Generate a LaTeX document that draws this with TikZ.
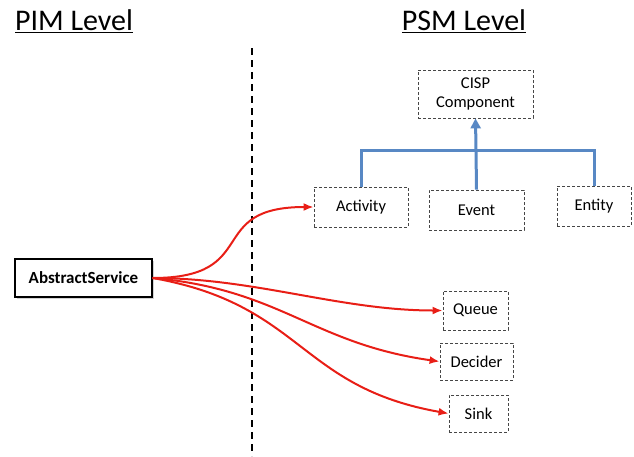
\documentclass[tikz,border=0pt]{standalone}
\usepackage{fontspec}
\setmainfont{Carlito}
\usetikzlibrary{arrows.meta,shadows}

\definecolor{linkred}{RGB}{232,30,22}
\definecolor{treeblue}{RGB}{88,136,196}
\definecolor{boxgray}{RGB}{70,70,70}

\begin{document}
\begin{tikzpicture}[
  x=1pt,y=-1pt,
  >={Latex[length=10pt,width=8pt]},
  level/.style={font=\fontsize{30}{33}\selectfont,inner sep=0pt},
  psm/.style={draw=boxgray,dashed,dash pattern=on 3pt off 2pt,thick,align=center,font=\fontsize{16.5}{19}\selectfont,inner sep=0pt},
  pim/.style={draw=black,very thick,fill=white,font=\fontsize{17}{20}\selectfont\bfseries,inner sep=0pt,
    drop shadow={opacity=0.35,shadow xshift=2pt,shadow yshift=-2pt}},
  link/.style={->,draw=linkred,line width=2pt},
  inherit/.style={draw=treeblue,line width=3pt}
]
\useasboundingbox (0,0) rectangle (634,456);
\node[level] (pimlabel) at (74,21) {\underline{PIM Level}};
\node[level] (psmlabel) at (464,21) {\underline{PSM Level}};
\coordinate (divtop) at (252,48);
\coordinate (divbot) at (252,456);
\draw[black,line width=2pt,dash pattern=on 7pt off 5pt] (divtop) -- (divbot);
% PSM side
\node[psm,minimum width=115pt,minimum height=48pt] (cisp) at (475.5,94) {CISP\\Component};
\node[psm,minimum width=94pt,minimum height=40pt] (activity) at (361,207) {Activity};
\node[psm,minimum width=95pt,minimum height=40pt] (event) at (476.5,210) {Event};
\node[psm,minimum width=74pt,minimum height=40pt] (entity) at (594,206) {Entity};
\node[psm,minimum width=65pt,minimum height=39pt] (queue) at (475.5,310.5) {Queue};
\node[psm,minimum width=73pt,minimum height=37pt] (decider) at (476.5,361.5) {Decider};
\node[psm,minimum width=59pt,minimum height=37pt] (sink) at (478.5,413.5) {Sink};
\coordinate (joint) at (476,150);
\draw[inherit] (activity.north) |- (joint) -| (entity.north);
\draw[inherit] (event.north) -- (joint);
\draw[inherit,-{Triangle[length=10pt,width=10pt]}] (joint) -- (cisp.south);
% PIM side
\node[pim,minimum width=137pt,minimum height=38pt] (abstract) at (83.5,278) {AbstractService};
\draw[link] (abstract.east) to[out=0,in=180,looseness=1.6] (activity.west);
\draw[link] (abstract.east) to[out=0,in=180,looseness=0.9] (queue.west);
\draw[link] (abstract.east) to[out=-5,in=172,looseness=1.1] (decider.west);
\draw[link] (abstract.east) to[out=-10,in=170,looseness=1.2] (sink.west);
\end{tikzpicture}
\end{document}
